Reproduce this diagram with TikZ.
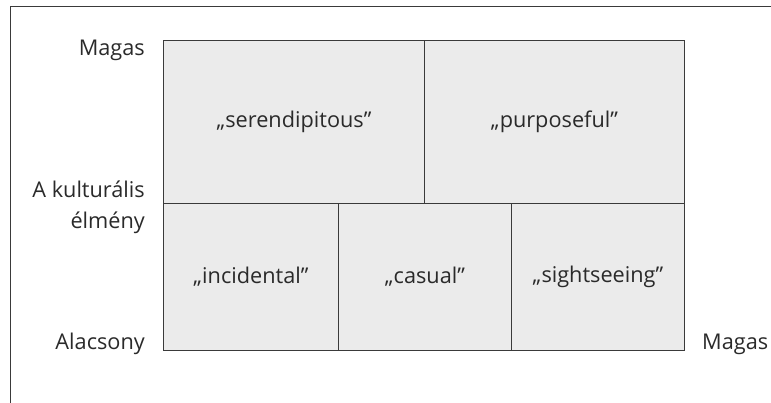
\documentclass[tikz,border=0pt]{standalone}
\usepackage{fontspec}
\setmainfont{Open Sans}
\definecolor{cellfill}{HTML}{EBEBEB}
\definecolor{linec}{HTML}{3A3A3A}
\definecolor{textc}{HTML}{2A2A2A}
\begin{document}
\begin{tikzpicture}[x=1pt,y=-1pt,
  cell/.style={draw=linec,fill=cellfill,line width=0.9pt,anchor=north west,inner sep=0pt,font=\fontsize{21.7}{31}\selectfont,text=textc},
  axlab/.style={font=\fontsize{21.7}{31}\selectfont,text=textc,inner sep=0pt}]
\useasboundingbox (0,0) rectangle (771,403);
\draw[linec,line width=1pt] (771,7) -- (10,7) -- (10,403);
\node[cell,minimum width=261pt,minimum height=163pt] (ser) at (163,40) {„serendipitous”};
\node[cell,minimum width=260pt,minimum height=163pt] (pur) at (424,40) {„purposeful”};
\node[cell,minimum width=175pt,minimum height=147pt] (inc) at (163,203) {„incidental”};
\node[cell,minimum width=173pt,minimum height=147pt] (cas) at (338,203) {„casual”};
\node[cell,minimum width=173pt,minimum height=147pt] (sig) at (511,203) {„sightseeing”};
\node[axlab,anchor=east] (hi) at (145,50) {Magas};
\node[axlab,anchor=east,align=right] (ku) at (145,207) {A kulturális\\élmény};
\node[axlab,anchor=east] (lo) at (145,344) {Alacsony};
\node[axlab,anchor=west] (hix) at (702,344) {Magas};
\end{tikzpicture}
\end{document}
